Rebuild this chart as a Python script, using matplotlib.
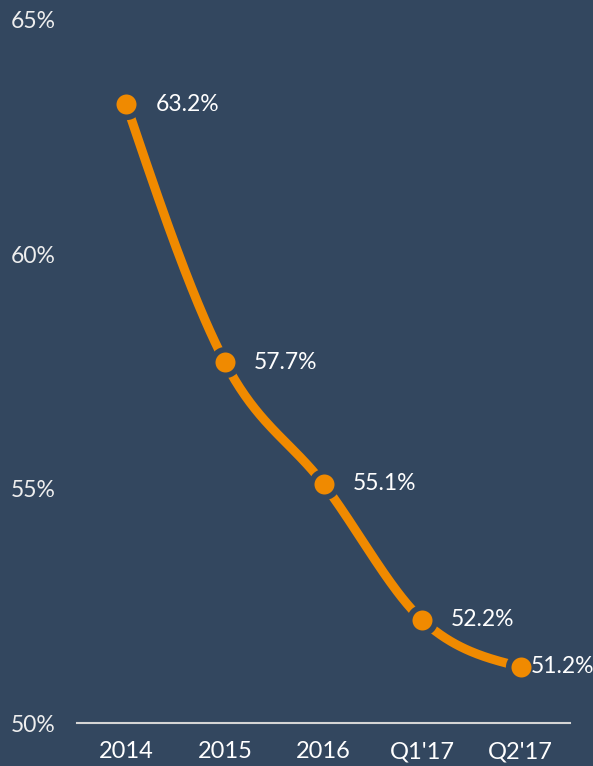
import numpy as np
import matplotlib
matplotlib.use("Agg")
import matplotlib.pyplot as plt

categories = ["2014", "2015", "2016", "Q1'17", "Q2'17"]
values = [63.2, 57.7, 55.1, 52.2, 51.2]
labels = ["63.2%", "57.7%", "55.1%", "52.2%", "51.2%"]
yticks = [50, 55, 60, 65]
ytick_labels = ["50%", "55%", "60%", "65%"]

BG = "#33475f"
ORANGE = "#f08a00"

plt.rcParams['font.family'] = ['Lato', 'DejaVu Sans']

def monotone(x, y, n=60):
    x = np.asarray(x, float); y = np.asarray(y, float)
    h = np.diff(x); d = np.diff(y) / h
    m = np.zeros_like(y)
    for i in range(1, len(y) - 1):
        if d[i-1] * d[i] <= 0:
            m[i] = 0
        else:
            p = (d[i-1] * h[i] + d[i] * h[i-1]) / (h[i-1] + h[i])
            m[i] = (np.sign(d[i-1]) + np.sign(d[i])) * min(abs(d[i-1]), abs(d[i]), 0.5 * abs(p))
    m[0] = (3 * d[0] - m[1]) / 2
    m[-1] = (3 * d[-1] - m[-2]) / 2
    xs, ys = [], []
    for i in range(len(h)):
        t = np.linspace(0, 1, n)
        h00 = 2*t**3 - 3*t**2 + 1; h10 = t**3 - 2*t**2 + t
        h01 = -2*t**3 + 3*t**2; h11 = t**3 - t**2
        xs.append(x[i] + t * h[i])
        ys.append(h00*y[i] + h10*h[i]*m[i] + h01*y[i+1] + h11*h[i]*m[i+1])
    return np.concatenate(xs), np.concatenate(ys)

fig = plt.figure(figsize=(5.93, 7.66), dpi=100, facecolor=BG)
ax = fig.add_axes([77/593, 1 - 723/766, (570-77)/593, (723-20)/766])
ax.set_facecolor(BG)

x = np.arange(len(categories))
sx, sy = monotone(x, values)
ax.plot(sx, sy, color=ORANGE, lw=6.5, solid_capstyle='butt', zorder=2)
ax.scatter(x, values, s=(22.5)**2, color=BG, zorder=3, linewidths=0)
ax.scatter(x, values, s=(14.4)**2, color=ORANGE, zorder=4, linewidths=0)

for i, (xi, v, lab) in enumerate(zip(x, values, labels)):
    off = 10 if i == len(x) - 1 else 29
    ax.annotate(lab, (xi, v), xytext=(off * 0.72, 0), textcoords='offset points',
                ha='left', va='center', color='white', fontsize=16.5, zorder=5)

ax.set_xlim(-0.5, 4.5)
ax.set_ylim(50, 65)
ax.set_xticks(x)
ax.set_xticklabels(categories, color='white', fontsize=17)
ax.set_yticks(yticks)
ax.set_yticklabels(ytick_labels, color='#eeeeee', fontsize=16.5, ha='left')
ax.tick_params(axis='y', length=0, pad=48)
ax.tick_params(axis='x', length=0, pad=13)
for s in ['top', 'right', 'left']:
    ax.spines[s].set_visible(False)
ax.spines['bottom'].set_color('#d5d5d5')
ax.spines['bottom'].set_linewidth(1.5)

fig.savefig("out.png", dpi=100, facecolor=BG)
